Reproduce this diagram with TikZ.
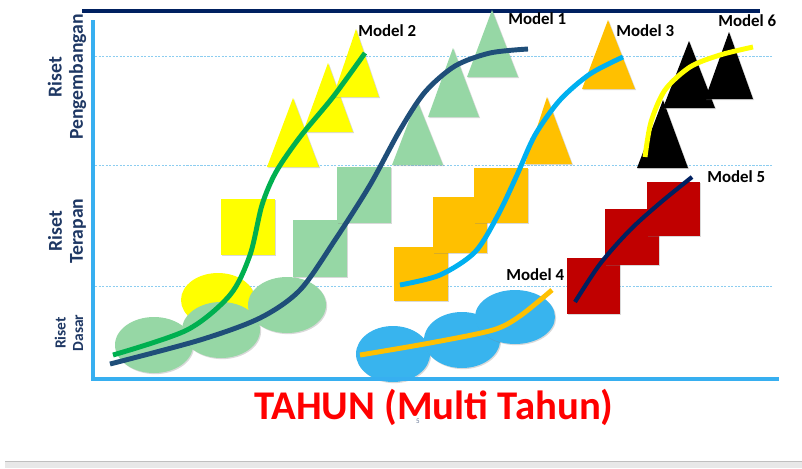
\documentclass[tikz,border=0pt]{standalone}
\usepackage{fontspec}
\setmainfont{Carlito}
\usetikzlibrary{shadows}

\definecolor{topnavy}{RGB}{0,32,96}
\definecolor{axisblue}{RGB}{55,175,240}
\definecolor{gridblue}{RGB}{140,205,240}
\definecolor{labnavy}{RGB}{31,56,100}
\definecolor{ylw}{RGB}{255,255,0}
\definecolor{mint}{RGB}{150,215,165}
\definecolor{amber}{RGB}{255,192,0}
\definecolor{darkred}{RGB}{192,0,0}
\definecolor{skyblue}{RGB}{56,180,238}
\definecolor{leafgreen}{RGB}{0,176,80}
\definecolor{tealblue}{RGB}{31,78,121}
\definecolor{cyanline}{RGB}{0,176,240}

\begin{document}
\begin{tikzpicture}[x=0.025cm,y=-0.025cm,
  blob/.style={drop shadow={shadow xshift=0.8pt,shadow yshift=-0.8pt,opacity=0.3}},
  curve/.style={line width=3.5pt},
  modlbl/.style={anchor=west,inner sep=0pt,font=\bfseries\fontsize{12}{14}\selectfont},
  levlbl/.style={rotate=90,align=center,text=labnavy,inner sep=0pt},
  grid line/.style={gridblue,line width=0.4pt,dash pattern=on 1.5pt off 1pt}]
\useasboundingbox (0,0) rectangle (802,468);

% frame and levels
\draw[topnavy,line width=2.2pt] (82,11) -- (760,11);
\draw[grid line] (95,56) -- (772,56);
\draw[grid line] (95,165) -- (772,165);
\draw[grid line] (95,286) -- (772,286);

\node[levlbl,font=\bfseries\fontsize{14}{15}\selectfont] (pengembangan) at (67,77) {Riset\\Pengembangan};
\node[levlbl,font=\bfseries\fontsize{14}{15}\selectfont] (terapan) at (67,231) {Riset\\Terapan};
\node[levlbl,font=\bfseries\fontsize{11}{12.5}\selectfont] (dasar) at (69,333) {Riset\\Dasar};

% model 2
\fill[ylw,blob] (218,300) ellipse [x radius=37, y radius=27];
\fill[ylw,blob] (221,199) rectangle (275,255);
\fill[ylw,blob] (267,167) -- (293,98) -- (319,167) -- cycle;
\fill[ylw,blob] (303,132) -- (328,63) -- (353,132) -- cycle;
\fill[ylw,blob] (333,97) -- (356,29) -- (379,97) -- cycle;

% model 1
\fill[mint,blob] (154,345) ellipse [x radius=39, y radius=28];
\fill[mint,blob] (221,330) ellipse [x radius=39, y radius=28];
\fill[mint,blob] (287,305) ellipse [x radius=39, y radius=28];
\fill[mint,blob] (293,220) rectangle (347,277);
\fill[mint,blob] (337,167) rectangle (391,223);
\fill[mint,blob] (392,165) -- (417,100) -- (443,165) -- cycle;
\fill[mint,blob] (428,117) -- (453,48) -- (479,117) -- cycle;
\fill[mint,blob] (467,77) -- (492,10) -- (518,77) -- cycle;

% model 3
\fill[amber,blob] (394,247) rectangle (448,301);
\fill[amber,blob] (433,197) rectangle (487,253);
\fill[amber,blob] (474,168) rectangle (528,223);
\fill[amber,blob] (525,164) -- (547,97) -- (572,164) -- cycle;
\fill[amber,blob] (582,89) -- (608,20) -- (635,89) -- cycle;

% model 6
\fill[black,blob] (637,168) -- (663,100) -- (688,168) -- cycle;
\fill[black,blob] (663,108) -- (689,41) -- (715,108) -- cycle;
\fill[black,blob] (705,99) -- (729,32) -- (753,99) -- cycle;

% model 5
\fill[darkred,blob] (567,258) rectangle (620,314);
\fill[darkred,blob] (605,209) rectangle (659,265);
\fill[darkred,blob] (647,182) rectangle (700,236);

% model 4
\fill[skyblue,blob] (393,354) ellipse [x radius=37, y radius=28];
\fill[skyblue,blob] (462,340) ellipse [x radius=38, y radius=28];
\fill[skyblue,blob] (515,317) ellipse [x radius=40, y radius=27];

% curves
\draw[curve,leafgreen] plot[smooth] coordinates {(113,355) (187,330) (230,295) (250,255) (262,205) (276,172) (300,137) (333,97) (365,53)};
\draw[curve,tealblue] plot[smooth] coordinates {(110,364) (200,340) (260,318) (300,290) (335,240) (370,185) (400,130) (425,92) (455,66) (490,53) (528,49)};
\draw[curve,cyanline] plot[smooth] coordinates {(400,285) (440,275) (475,252) (498,215) (517,175) (535,135) (560,100) (590,74) (623,57)};
\draw[curve,ylw] plot[smooth] coordinates {(645,157) (651,122) (665,90) (690,67) (720,55) (753,47)};
\draw[curve,topnavy,line width=3pt] plot[smooth] coordinates {(575,302) (600,264) (630,230) (660,203) (692,177)};
\draw[curve,amber] plot[smooth] coordinates {(360,355) (430,343) (493,330) (520,316) (552,290)};

% axes
\draw[axisblue,line width=2.4pt] (93,20) -- (93,379) -- (779,379);

% model labels
\node[modlbl] (m2) at (358,31) {Model 2};
\node[modlbl] (m1) at (508,19) {Model 1};
\node[modlbl] (m3) at (616,31) {Model 3};
\node[modlbl] (m6) at (718,21) {Model 6};
\node[modlbl] (m5) at (707,177) {Model 5};
\node[modlbl] (m4) at (506,275) {Model 4};

% title
\node[text=red,font=\bfseries\fontsize{29}{34}\selectfont] (tahun) at (434,407) {TAHUN (Multi Tahun)};
\node[text=labnavy!70,font=\fontsize{5}{6}\selectfont,inner sep=0pt] (hal) at (418,421) {5};

% bottom bar
\fill[black!9] (5,461) rectangle (802,468);
\draw[black!25,line width=0.6pt] (5,461) -- (802,461);

\end{tikzpicture}
\end{document}
